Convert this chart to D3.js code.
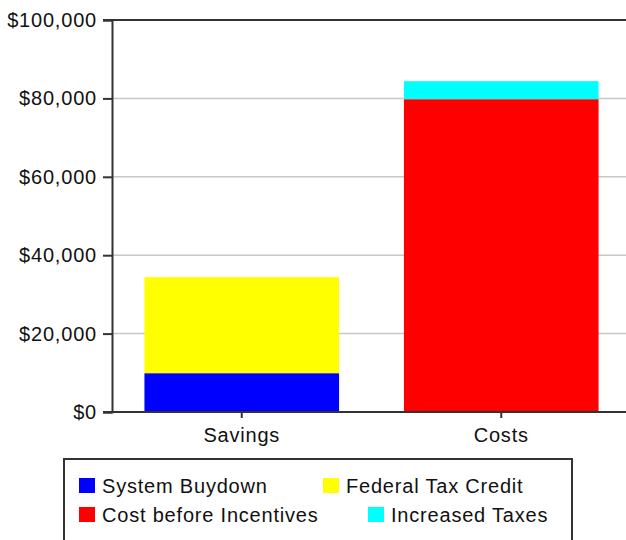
<!DOCTYPE html>
<html>
<head>
<meta charset="utf-8">
<script src="https://cdn.jsdelivr.net/npm/d3@7"></script>
<style>
  html, body { margin: 0; padding: 0; background: #fff; }
  svg { display: block; }
  text { font-family: "Liberation Sans", Arial, sans-serif; font-size: 20px; letter-spacing: 0.8px; fill: #111; }
</style>
</head>
<body>
<svg id="chart" width="626" height="540"></svg>
<script>
const categories = ["Savings", "Costs"];
const seriesNames = ["System Buydown", "Federal Tax Credit", "Cost before Incentives", "Increased Taxes"];
const seriesColors = ["#0000ff", "#ffff00", "#ff0000", "#00ffff"];
// values per category for each series
const systemBuydown = [9900, 0];
const federalTaxCredit = [24500, 0];
const costBeforeIncentives = [0, 79800];
const increasedTaxes = [0, 4600];
const yTicks = [0, 20000, 40000, 60000, 80000, 100000];

const svg = d3.select("#chart");
const mLeft = 112, mRight = 631, mTop = 20, mBottom = 412;

const y = d3.scaleLinear().domain([0, 100000]).range([mBottom, mTop]);
const x = d3.scaleBand().domain(categories).range([mLeft, mRight]).paddingInner(0.25).paddingOuter(0.125);

// gridlines
svg.append("g").selectAll("line").data(yTicks.filter(d => d > 0 && d < 100000)).join("line")
  .attr("x1", mLeft).attr("x2", 626)
  .attr("y1", d => y(d)).attr("y2", d => y(d))
  .attr("stroke", "#c8c8c8").attr("stroke-width", 1.5);

// stacked data
const table = categories.map((c, i) => ({
  cat: c,
  "System Buydown": systemBuydown[i],
  "Federal Tax Credit": federalTaxCredit[i],
  "Cost before Incentives": costBeforeIncentives[i],
  "Increased Taxes": increasedTaxes[i]
}));
const stack = d3.stack().keys(seriesNames)(table);
const color = d3.scaleOrdinal().domain(seriesNames).range(seriesColors);

svg.append("g").selectAll("g").data(stack).join("g")
  .attr("fill", d => color(d.key))
  .selectAll("rect").data(d => d.filter(p => p[1] > p[0])).join("rect")
  .attr("x", d => x(d.data.cat))
  .attr("width", x.bandwidth())
  .attr("y", d => y(d[1]))
  .attr("height", d => y(d[0]) - y(d[1]));

// y axis
const yAxis = d3.axisLeft(y).tickValues(yTicks).tickSize(9).tickPadding(6)
  .tickFormat(d => "$" + d3.format(",")(d));
const gy = svg.append("g").attr("transform", `translate(${mLeft},0)`).call(yAxis);
gy.select(".domain").attr("stroke", "#333").attr("stroke-width", 2);
gy.selectAll(".tick line").attr("stroke", "#333").attr("stroke-width", 2);
gy.selectAll(".tick text").attr("fill", "#111").style("font-size", "20px")
  .style("font-family", "'Liberation Sans', Arial, sans-serif");

// top line
svg.append("line").attr("x1", mLeft - 9).attr("x2", 626).attr("y1", y(100000)).attr("y2", y(100000))
  .attr("stroke", "#333").attr("stroke-width", 2);

// x axis
const xAxis = d3.axisBottom(x).tickSize(6).tickPadding(10).tickSizeOuter(0);
const gx = svg.append("g").attr("transform", `translate(0,${mBottom})`).call(xAxis);
gx.select(".domain").remove();
gx.selectAll(".tick line").attr("stroke", "#333").attr("stroke-width", 2);
gx.selectAll(".tick text").attr("fill", "#111").style("font-size", "20px")
  .style("font-family", "'Liberation Sans', Arial, sans-serif");
svg.append("line").attr("x1", mLeft - 9).attr("x2", 626).attr("y1", mBottom).attr("y2", mBottom)
  .attr("stroke", "#333").attr("stroke-width", 2);

// legend
svg.append("rect").attr("x", 64).attr("y", 459).attr("width", 508).attr("height", 100)
  .attr("fill", "none").attr("stroke", "#333").attr("stroke-width", 2);
const legendPos = [[79, 478], [323, 478], [79, 507], [368, 507]];
const lg = svg.append("g").selectAll("g").data(seriesNames).join("g")
  .attr("transform", (d, i) => `translate(${legendPos[i][0]},${legendPos[i][1]})`);
lg.append("rect").attr("width", 16).attr("height", 15).attr("fill", d => color(d));
lg.append("text").attr("x", 23).attr("y", 15).text(d => d);
</script>
</body>
</html>
